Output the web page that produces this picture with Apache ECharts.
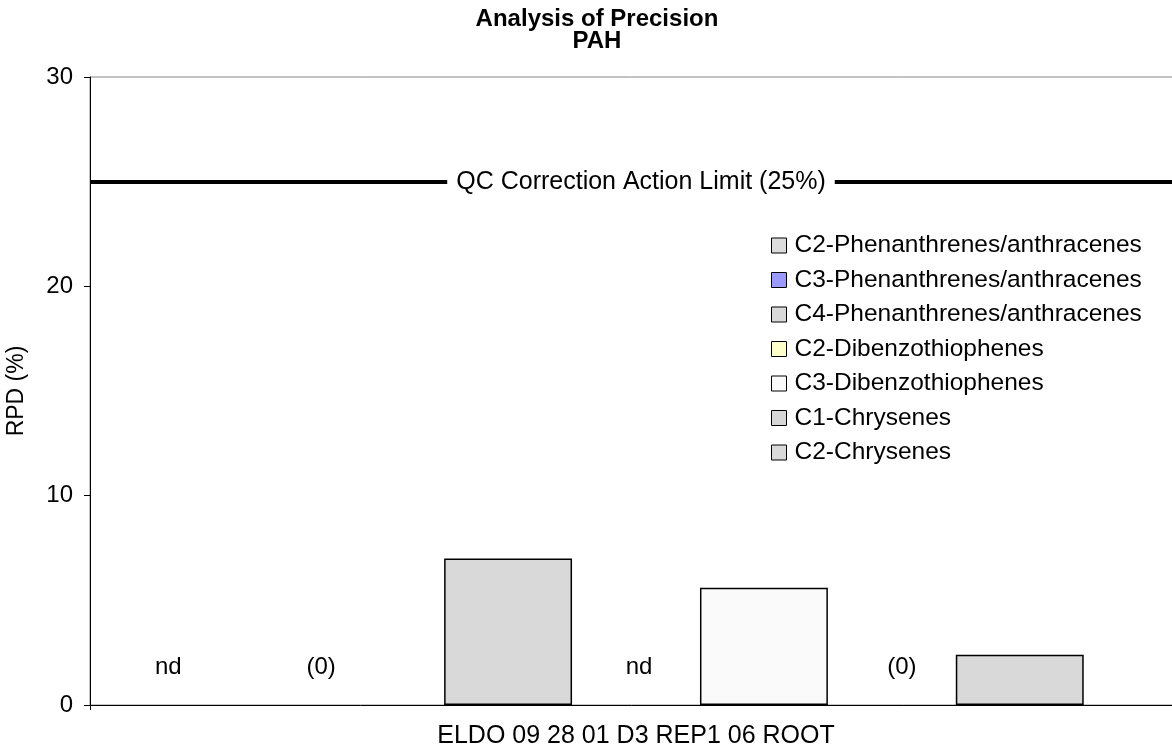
<!DOCTYPE html>
<html><head><meta charset="utf-8">
<script src="https://cdn.jsdelivr.net/npm/echarts@6/dist/echarts.min.js"></script>
<style>html,body{margin:0;padding:0;background:#fff}#c{width:1172px;height:752px}</style>
</head><body><div id="c"></div>
<script>
var categories = ['ELDO 09 28 01 D3 REP1 06 ROOT'];
var seriesNames = ['C2-Phenanthrenes/anthracenes','C3-Phenanthrenes/anthracenes','C4-Phenanthrenes/anthracenes','C2-Dibenzothiophenes','C3-Dibenzothiophenes','C1-Chrysenes','C2-Chrysenes'];
var seriesValues = [0, 0, 7.0, 0, 5.6, 0, 2.4];
var zeroLabels = ['nd', '(0)', '', 'nd', '', '(0)', ''];
var seriesColors = ['#dcdcdc','#9999ff','#d9d9d9','#ffffcc','#fafafa','#d6d6d6','#d9d9d9'];
var labelShift = [-84, -59, 0, 3, 0, 10, 0];
var yTicks = [0, 10, 20, 30];
var qcLimit = 25;
var qcText = 'QC Correction Action Limit (25%)';

var FONT = 'Liberation Sans, Arial, sans-serif';
var series = seriesNames.map(function (n, i) {
  var s = {
    name: n, type: 'bar',
    data: [seriesValues[i]],
    barGap: '0%', barCategoryGap: '18%',
    itemStyle: { color: seriesColors[i], borderColor: '#000', borderWidth: seriesValues[i] > 0 ? 1.5 : 0 },
    label: {
      show: zeroLabels[i] !== '',
      position: 'top', distance: 26, offset: [labelShift[i], 0],
      formatter: zeroLabels[i], color: '#000', fontSize: 24, fontFamily: FONT
    }
  };
  if (i === 0) {
    s.markLine = {
      silent: true, symbol: ['none', 'none'],
      lineStyle: { color: '#000', width: 4, type: 'solid' },
      label: { show: true, position: 'middle', formatter: qcText, color: '#000', fontSize: 25, fontFamily: FONT,
               backgroundColor: '#fff', padding: [2, 9, 2, 9], distance: 0, verticalAlign: 'middle', offset: [5, 0] },
      data: [{ yAxis: qcLimit }]
    };
  }
  return s;
});

var chart = echarts.init(document.getElementById('c'));
chart.setOption({
  animation: false,
  backgroundColor: '#fff',
  title: {
    text: 'Analysis of Precision\nPAH', left: 592, textAlign: 'center', top: 3,
    textStyle: { fontSize: 24, fontWeight: 'bold', fontFamily: FONT, color: '#000', lineHeight: 22 }
  },
  legend: {
    orient: 'vertical', left: 771, top: 233, padding: 0, itemWidth: 15, itemHeight: 15, itemGap: 9.5,
    icon: 'rect',
    textStyle: { fontSize: 24.5, fontFamily: FONT, color: '#000', padding: [0, 0, 0, 3] },
    itemStyle: { borderColor: '#000', borderWidth: 1 },
    data: seriesNames
  },
  grid: { left: 90, top: 77, width: 1092, height: 628, show: true, borderColor: '#888', borderWidth: 1,
          containLabel: false, outerBoundsMode: 'none' },
  xAxis: {
    type: 'category', data: categories,
    axisLine: { lineStyle: { color: '#000', width: 1 } },
    axisTick: { show: true, length: 5, lineStyle: { color: '#000' } },
    axisLabel: { fontSize: 25, fontFamily: FONT, color: '#000', margin: 19 }
  },
  yAxis: {
    type: 'value', min: yTicks[0], max: yTicks[yTicks.length - 1], interval: 10,
    name: 'RPD (%)', nameLocation: 'middle', nameGap: 62, nameRotate: 90,
    nameTextStyle: { fontSize: 23, fontFamily: FONT, color: '#000' },
    axisLine: { show: true, lineStyle: { color: '#000', width: 1 } },
    axisTick: { show: true, length: 6, lineStyle: { color: '#000' } },
    splitLine: { show: false },
    axisLabel: { fontSize: 24, fontFamily: FONT, color: '#000', margin: 17 }
  },
  series: series
});
</script></body></html>
